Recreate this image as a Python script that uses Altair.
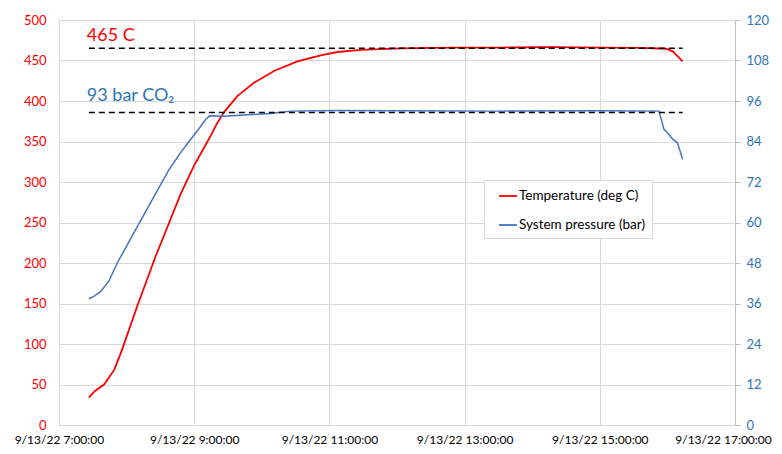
import altair as alt
import pandas as pd

# ---- data ----
temp_times = ["07:26:30", "07:32:00", "07:40:00", "07:49:00", "07:56:00", "08:09:30",
              "08:25:42", "08:39:00", "08:47:55", "08:59:44", "09:08:36", "09:14:34",
              "09:20:30", "09:26:22", "09:38:17", "09:53:01", "10:10:47", "10:31:34",
              "10:52:18", "11:07:06", "11:27:48", "12:03:00", "12:48:00", "13:32:00",
              "14:17:00", "15:01:00", "15:37:00", "15:59:00", "16:05:00", "16:13:30"]
temp_values = [34, 42, 50, 68, 93, 147,
               208, 254, 285, 320, 342, 357,
               373, 386, 406, 422.5, 437, 449,
               456.4, 460.5, 463, 465, 466, 466,
               466.5, 466, 465.5, 464.5, 461, 449]

pres_times = ["07:26:30", "07:30:55", "07:36:51", "07:44:14", "07:51:42", "08:06:26",
              "08:22:47", "08:37:31", "08:47:55", "08:56:48", "09:04:10", "09:10:07",
              "09:13:40", "09:26:22", "10:07:51", "10:25:38", "11:07:06", "12:03:20",
              "13:32:06", "15:01:00", "15:52:30", "15:57:00", "16:00:00", "16:05:00",
              "16:09:00", "16:13:30"]
pres_values = [37.4, 38.1, 39.5, 42.6, 48, 56.9,
               66.8, 75.6, 80.7, 84.6, 87.8, 90.5,
               91.6, 91.5, 92.3, 93.0, 93.2, 93.1,
               93.0, 93.1, 93.0, 87.6, 86.6, 84.6,
               83.6, 78.7]

series_names = ["Temperature (deg C)", "System pressure (bar)"]
series_colors = ["#ff0000", "#4472c4"]

temp_target = 465
pres_target = 92.6
ref_start = "07:26:30"
ref_end = "16:13:30"

day = "2022-09-13T"
x_ticks = ["07:00:00", "09:00:00", "11:00:00", "13:00:00", "15:00:00", "17:00:00"]
left_ticks = [0, 50, 100, 150, 200, 250, 300, 350, 400, 450, 500]
right_ticks = [0, 12, 24, 36, 48, 60, 72, 84, 96, 108, 120]

FONT = "Lato"

temp_df = pd.DataFrame({"t": [day + t for t in temp_times], "v": temp_values,
                        "series": series_names[0]})
pres_df = pd.DataFrame({"t": [day + t for t in pres_times], "v": pres_values,
                        "series": series_names[1]})
temp_ref = pd.DataFrame({"t": [day + ref_start], "t2": [day + ref_end], "v": [temp_target],
                         "label": ["465 C"]})
pres_ref = pd.DataFrame({"t": [day + ref_start], "t2": [day + ref_end], "v": [pres_target],
                         "label": ["93 bar CO\u2082"]})

x_dom = [day + "07:00:00", day + "17:00:00"]
x_enc = alt.X("t:T", scale=alt.Scale(domain=x_dom, nice=False),
              axis=alt.Axis(values=[day + v for v in x_ticks], format="%-m/%-d/%y %-H:%M:%S",
                            labelFontSize=12, labelColor="#000000", labelFont=FONT,
                            tickSize=0, labelPadding=9, domainColor="#d9d9d9",
                            gridColor="#d9d9d9", labelFlush=False,
                            labelOffset={"condition": {"test": "datum.index == 1", "value": -12},
                                         "value": 0}),
              title=None)

color_enc = alt.Color("series:N",
                      scale=alt.Scale(domain=series_names, range=series_colors),
                      legend=alt.Legend(orient="none", legendX=425, legendY=160,
                                        title=None, symbolType="stroke", symbolSize=324,
                                        symbolStrokeWidth=1.8, symbolOffset=8,
                                        labelFontSize=13.5, labelFont=FONT,
                                        labelColor="#000000", padding=6, rowPadding=12,
                                        labelOffset=1,
                                        fillColor="#ffffff", strokeColor="#d9d9d9"))

temp_y = alt.Y("v:Q", scale=alt.Scale(domain=[0, 500], nice=False),
               axis=alt.Axis(orient="left", values=left_ticks, labelColor="#ff0000",
                             labelFontSize=13, labelFont=FONT, tickSize=0, labelPadding=13,
                             domain=False, gridColor="#d9d9d9"),
               title=None)
pres_y = alt.Y("v:Q", scale=alt.Scale(domain=[0, 120], nice=False),
               axis=alt.Axis(orient="right", values=right_ticks, labelColor="#2e75b6",
                             labelFontSize=13, labelFont=FONT, tickSize=5, tickColor="#bfbfbf",
                             labelPadding=6, domainColor="#bfbfbf", grid=False),
               title=None)

temp_line = alt.Chart(temp_df).mark_line(strokeWidth=1.8).encode(x=x_enc, y=temp_y, color=color_enc)
temp_dash = alt.Chart(temp_ref).mark_rule(color="#000000", strokeWidth=1.5,
                                          strokeDash=[6, 4]).encode(x="t:T", x2="t2:T", y="v:Q")
temp_text = alt.Chart(temp_ref).mark_text(align="left", baseline="alphabetic", dy=-7, dx=-2,
                                          fontSize=18, font=FONT, color="#ff0000").encode(
    x="t:T", y="v:Q", text="label:N")

pres_line = alt.Chart(pres_df).mark_line(strokeWidth=1.5).encode(x=x_enc, y=pres_y, color=color_enc)
pres_dash = alt.Chart(pres_ref).mark_rule(color="#000000", strokeWidth=1.5,
                                          strokeDash=[6, 4]).encode(x="t:T", x2="t2:T", y="v:Q")
pres_text = alt.Chart(pres_ref).mark_text(align="left", baseline="alphabetic", dy=-11, dx=-2,
                                          fontSize=18, font=FONT, color="#2e75b6").encode(
    x="t:T", y="v:Q", text="label:N")

left_layer = alt.layer(temp_line, temp_dash, temp_text)
right_layer = alt.layer(pres_line, pres_dash, pres_text)

chart = alt.layer(left_layer, right_layer).resolve_scale(y="independent").properties(
    width=676, height=405,
    autosize=alt.AutoSizeParams(type="none"),
    padding={"left": 51, "top": 12, "right": 39, "bottom": 21},
).configure_view(stroke=None).configure(background="#ffffff")

chart.save("out.html", embed_options={"renderer": "svg", "actions": False})
